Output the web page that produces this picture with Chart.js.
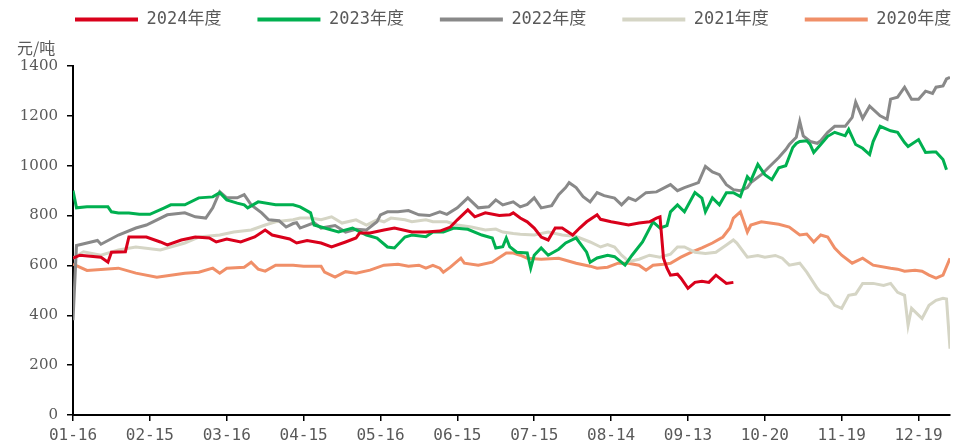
<!DOCTYPE html>
<html>
<head>
<meta charset="utf-8">
<script src="https://cdn.jsdelivr.net/npm/chart.js@4/dist/chart.umd.min.js"></script>
<style>
  html, body { margin: 0; padding: 0; background: #fff; }
  #wrap { width: 959px; height: 446px; position: relative; }
</style>
</head>
<body>
<div id="wrap"><canvas id="grafico"></canvas></div>
<script>
// Eixo X: rótulos e posição (dia útil) de cada rótulo
const tickLabels = ['01-16', '02-15', '03-16', '04-15', '05-16', '06-15', '07-15', '08-14', '09-13', '10-20', '11-19', '12-19'];
const tickDays = [0, 22, 44, 66, 88, 110, 132, 154, 176, 198, 220, 242];
const yTicks = [0, 200, 400, 600, 800, 1000, 1200, 1400];

// Séries [dia, 元/吨]
const s2024 = [[0,629],[2,641],[8,633],[10,613],[11,653],[15,655],[16,714],[21,714],[25,694],[27,682],[31,702],[35,714],[39,710],[41,694],[44,706],[48,694],[52,714],[55,742],[57,722],[62,706],[64,690],[67,700],[71,690],[74,674],[78,694],[81,710],[82,730],[85,730],[89,742],[92,750],[97,734],[101,734],[105,738],[108,754],[110,783],[113,823],[115,795],[118,811],[122,800],[125,803],[126,811],[128,790],[130,775],[132,750],[134,714],[136,702],[138,750],[140,750],[143,722],[145,750],[147,775],[150,803],[151,785],[154,775],[156,770],[159,762],[162,770],[165,775],[167,790],[168,795],[169,629],[170,589],[171,561],[173,565],[174,549],[176,508],[178,532],[180,536],[182,532],[184,561],[187,528],[189,532]];

const s2023 = [[0,900],[1,831],[4,835],[10,835],[11,815],[13,810],[16,810],[19,805],[22,805],[26,830],[28,843],[32,843],[36,871],[40,875],[42,892],[44,863],[47,850],[49,843],[50,831],[53,855],[58,843],[63,843],[65,835],[68,811],[69,762],[72,750],[76,734],[80,750],[84,722],[87,710],[90,674],[92,670],[95,714],[97,722],[101,715],[103,734],[106,734],[109,750],[113,745],[117,722],[120,710],[121,670],[123,675],[124,710],[125,675],[127,653],[130,650],[131,589],[132,641],[134,670],[136,641],[139,665],[141,690],[144,710],[147,653],[148,613],[150,630],[153,641],[155,635],[158,601],[160,641],[163,694],[166,775],[168,750],[170,760],[171,815],[173,843],[175,815],[178,892],[180,870],[181,815],[183,871],[185,843],[187,892],[189,892],[191,876],[193,956],[194,940],[196,1005],[198,964],[200,944],[202,992],[204,1000],[206,1073],[207,1089],[208,1097],[210,1100],[211,1085],[212,1053],[214,1085],[216,1118],[218,1134],[221,1120],[222,1146],[224,1085],[226,1070],[228,1045],[229,1097],[231,1158],[234,1140],[236,1134],[238,1093],[239,1077],[242,1105],[244,1053],[246,1055],[247,1055],[249,1025],[250,984]];

const s2022 = [[0,380],[1,680],[4,690],[7,700],[8,685],[13,722],[18,750],[21,762],[27,803],[32,811],[35,795],[38,790],[40,831],[42,896],[44,871],[47,871],[49,884],[51,843],[54,811],[56,783],[59,779],[61,754],[63,768],[64,771],[65,750],[69,771],[71,750],[75,760],[78,734],[81,745],[84,742],[87,775],[88,803],[90,815],[93,815],[96,820],[99,803],[102,800],[105,815],[107,805],[110,831],[113,871],[116,831],[119,835],[121,863],[123,843],[126,855],[128,835],[130,845],[132,871],[134,831],[137,840],[139,884],[141,912],[142,932],[144,912],[146,876],[148,855],[150,892],[152,880],[155,870],[157,843],[159,871],[161,860],[164,892],[167,895],[171,924],[173,900],[175,912],[179,932],[181,997],[183,975],[185,964],[187,924],[189,904],[191,900],[193,912],[194,932],[197,964],[199,992],[202,1033],[204,1065],[205,1085],[207,1114],[208,1178],[209,1120],[211,1097],[213,1090],[214,1100],[216,1134],[218,1158],[221,1158],[223,1194],[224,1255],[226,1190],[228,1239],[231,1200],[233,1186],[234,1267],[236,1275],[238,1315],[240,1267],[242,1267],[244,1299],[246,1290],[247,1315],[249,1320],[250,1348],[251,1355]];

const s2021 = [[0,630],[3,655],[8,641],[13,662],[18,674],[25,662],[32,690],[36,714],[42,722],[46,734],[51,742],[55,762],[58,775],[63,783],[65,790],[68,790],[71,783],[74,795],[77,770],[81,783],[84,762],[87,783],[89,775],[91,790],[95,783],[97,775],[101,783],[103,775],[107,775],[110,762],[114,754],[118,742],[121,746],[123,734],[126,728],[128,725],[132,722],[136,734],[140,722],[144,716],[148,694],[151,674],[153,684],[155,674],[157,641],[158,629],[159,615],[162,625],[165,641],[168,633],[171,645],[173,674],[175,674],[178,653],[181,648],[184,653],[187,682],[189,702],[190,690],[193,633],[196,640],[198,633],[201,640],[203,629],[205,601],[208,609],[210,573],[213,508],[214,492],[216,480],[218,440],[220,428],[222,480],[224,485],[226,528],[229,528],[232,520],[234,528],[236,492],[238,480],[239,359],[240,428],[243,387],[245,440],[247,460],[249,468],[250,465],[251,266]];

const s2020 = [[0,605],[4,580],[13,589],[18,569],[24,553],[32,569],[36,573],[40,589],[42,569],[44,589],[49,593],[51,613],[53,585],[55,577],[58,601],[63,601],[66,597],[71,597],[72,573],[75,553],[78,575],[81,569],[85,581],[89,601],[93,605],[96,597],[99,601],[101,589],[103,600],[105,589],[106,573],[108,593],[111,629],[112,609],[116,601],[120,613],[124,650],[126,650],[128,641],[130,629],[134,625],[139,629],[144,609],[148,597],[150,589],[153,593],[156,609],[159,609],[162,601],[164,581],[166,601],[169,605],[171,609],[174,633],[177,653],[180,670],[183,690],[186,714],[188,750],[189,790],[191,815],[192,775],[193,734],[194,762],[197,775],[202,765],[205,754],[208,722],[210,726],[212,694],[214,722],[216,714],[218,670],[220,641],[223,609],[226,629],[229,601],[234,589],[236,585],[238,577],[241,581],[243,577],[245,561],[247,549],[249,561],[251,629]];

const toXY = arr => arr.map(([x, y]) => ({ x, y }));

function serie(label, data, cor) {
    return {
        label: label,
        data: toXY(data),
        borderColor: cor,
        backgroundColor: cor,
        borderWidth: 3,
        pointRadius: 0,
        tension: 0
    };
}

// legenda e título do eixo Y posicionados à mão
const ajustes = {
    id: 'ajustes',
    afterInit(chart) {
        const lg = chart.legend;
        const fit = lg.fit.bind(lg);
        lg.fit = function () { fit(); this.height = 66; };
        const draw = lg.draw.bind(lg);
        lg.draw = function () {
            const ctx = this.ctx;
            ctx.save();
            ctx.translate(39, -25);
            draw();
            ctx.restore();
        };
    },
    afterDraw(chart) {
        const ctx = chart.ctx;
        ctx.save();
        ctx.font = "16px 'Noto Sans CJK SC'";
        ctx.fillStyle = '#595959';
        ctx.textAlign = 'left';
        ctx.textBaseline = 'middle';
        ctx.fillText('元/吨', 17, 48);
        ctx.restore();
    }
};

new Chart(document.getElementById('grafico'), {
    type: 'line',
    data: {
        datasets: [
            serie('2024年度', s2024, '#D9001B'),
            serie('2023年度', s2023, '#00B050'),
            serie('2022年度', s2022, '#898989'),
            serie('2021年度', s2021, '#D5D5C5'),
            serie('2020年度', s2020, '#F08F68')
        ]
    },
    options: {
        responsive: true,
        maintainAspectRatio: false,
        animation: false,
        layout: { padding: { left: 0, right: 9, top: 0, bottom: 0 } },
        plugins: {
            legend: {
                position: 'top',
                align: 'start',
                labels: {
                    boxWidth: 63,
                    boxHeight: 4,
                    padding: 36,
                    color: '#595959',
                    font: { family: "'DejaVu Sans Mono', 'Noto Sans CJK SC'", size: 17 },
                    generateLabels: chart => Chart.defaults.plugins.legend.labels.generateLabels(chart)
                        .map(l => ({ ...l, lineWidth: 0, fillStyle: l.strokeStyle }))
                }
            },
            tooltip: { enabled: false }
        },
        scales: {
            x: {
                type: 'linear',
                min: 0,
                max: 251,
                afterBuildTicks: s => { s.ticks = tickDays.map(v => ({ value: v })); },
                afterFit: s => { s.height = 31; },
                border: { color: '#000', width: 2 },
                grid: { drawOnChartArea: false, drawTicks: true, tickLength: 6, color: '#000', lineWidth: 1.5 },
                ticks: {
                    autoSkip: false,
                    maxRotation: 0,
                    padding: 5,
                    color: '#595959',
                    font: { family: "'DejaVu Sans Mono'", size: 16 },
                    callback: v => tickLabels[tickDays.indexOf(v)] ?? ''
                }
            },
            y: {
                min: 0,
                max: 1400,
                afterBuildTicks: s => { s.ticks = yTicks.map(v => ({ value: v })); },
                afterFit: s => { s.width = 73; },
                border: { color: '#000', width: 2 },
                grid: { drawOnChartArea: false, drawTicks: true, tickLength: 6, color: '#000', lineWidth: 1.5 },
                ticks: {
                    padding: 9,
                    color: '#595959',
                    font: { family: "'DejaVu Serif'", size: 15 },
                    callback: v => String(v)
                }
            }
        }
    },
    plugins: [ajustes]
});
</script>
</body>
</html>
